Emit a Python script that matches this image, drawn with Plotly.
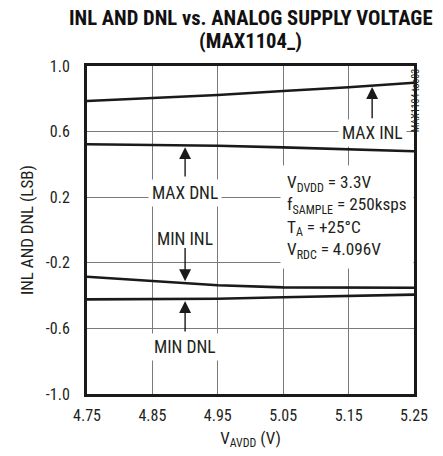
import plotly.graph_objects as go

# Data
vavdd = [4.75, 4.85, 4.95, 5.05, 5.15, 5.25]
max_inl = [0.787, 0.805, 0.823, 0.848, 0.870, 0.898]
max_dnl = [0.523, 0.519, 0.514, 0.504, 0.492, 0.480]
min_inl = [-0.285, -0.311, -0.337, -0.350, -0.352, -0.352]
min_dnl = [-0.423, -0.422, -0.419, -0.410, -0.400, -0.394]

x_ticks = [4.75, 4.85, 4.95, 5.05, 5.15, 5.25]
y_ticks = [-1.0, -0.6, -0.2, 0.2, 0.6, 1.0]
y_tick_text = ["-1.0", "-0.6", "-0.2", "0.2", "0.6", "1.0"]

FONT = "Roboto Condensed, DejaVu Sans Condensed, sans-serif"
TXT = "#231f20"

fig = go.Figure()
for ys in [max_inl, max_dnl, min_inl, min_dnl]:
    fig.add_trace(go.Scatter(x=vavdd, y=ys, mode="lines",
                             line=dict(color="#1a1a1a", width=2.6),
                             showlegend=False, hoverinfo="skip"))

ann = []
lab = dict(showarrow=False, font=dict(family=FONT, size=17.5, color=TXT),
           bgcolor="white", borderpad=3, xref="x", yref="y")
ann.append(dict(text="MAX INL", x=5.186, y=0.59, **lab))
ann.append(dict(text="MAX DNL", x=4.90, y=0.228, **lab))
ann.append(dict(text="MIN INL", x=4.90, y=-0.052, **lab))
ann.append(dict(text="MIN DNL", x=4.90, y=-0.713, **lab))

arr = dict(text="", showarrow=True, arrowhead=2, arrowsize=1.7, arrowwidth=1.4,
           arrowcolor="#1a1a1a", xref="x", yref="y", axref="x", ayref="y", standoff=0)
ann.append(dict(x=5.186, y=0.872, ax=5.186, ay=0.672, **arr))
ann.append(dict(x=4.90, y=0.505, ax=4.90, ay=0.317, **arr))
ann.append(dict(x=4.90, y=-0.312, ax=4.90, ay=-0.101, **arr))
ann.append(dict(x=4.90, y=-0.433, ax=4.90, ay=-0.628, **arr))

ann.append(dict(text="V<sub>DVDD</sub> = 3.3V<br>f<sub>SAMPLE</sub> = 250ksps<br>"
                     "T<sub>A</sub> = +25°C<br>V<sub>RDC</sub> = 4.096V",
                x=5.045, y=0.395, xanchor="left", yanchor="top", align="left",
                showarrow=False, font=dict(family=FONT, size=17.2, color=TXT),
                bgcolor="white", borderpad=6, xref="x", yref="y"))

ann.append(dict(text="MAX1104 toc03", textangle=-90, x=1.03, y=0.787,
                xref="paper", yref="y", showarrow=False,
                font=dict(family=FONT, size=10, color=TXT)))

title_font = dict(family=FONT, size=20.6, color="#111111")
ann.append(dict(text="<b>INL AND DNL vs. ANALOG SUPPLY VOLTAGE</b>",
                x=(251 - 87) / 327, y=1 + (66 - 18) / 328, xref="paper", yref="paper",
                xanchor="center", yanchor="middle", showarrow=False, font=title_font))
ann.append(dict(text="<b>(MAX1104_)</b>",
                x=(251 - 87) / 327, y=1 + (66 - 41) / 328, xref="paper", yref="paper",
                xanchor="center", yanchor="middle", showarrow=False, font=title_font))

fig.update_layout(
    width=443, height=456,
    margin=dict(l=87, r=29, t=66, b=62),
    paper_bgcolor="white", plot_bgcolor="white",
    font=dict(family=FONT, size=16, color=TXT),
    annotations=ann,
    xaxis=dict(range=[4.75, 5.25], tickvals=x_ticks, ticktext=[f"{v:.2f}" for v in x_ticks],
               showgrid=True, gridcolor="#7a7a7a", gridwidth=1,
               showline=True, linecolor="#1a1a1a", linewidth=3, mirror=True,
               ticks="", zeroline=False, tickfont=dict(size=16), ticklabelstandoff=5,
               title=dict(text="V<sub>AVDD</sub> (V)", standoff=8,
                          font=dict(family=FONT, size=17, color=TXT))),
    yaxis=dict(range=[-1, 1], tickvals=y_ticks, ticktext=y_tick_text,
               showgrid=True, gridcolor="#7a7a7a", gridwidth=1,
               showline=True, linecolor="#1a1a1a", linewidth=3, mirror=True,
               ticks="", zeroline=False, ticklabelstandoff=11, tickfont=dict(size=16),
               title=dict(text="INL AND DNL (LSB)", standoff=8,
                          font=dict(family=FONT, size=17, color=TXT))),
)

fig.write_html("out.html", config={"displayModeBar": False},
               post_script="document.body.style.margin='0';")
